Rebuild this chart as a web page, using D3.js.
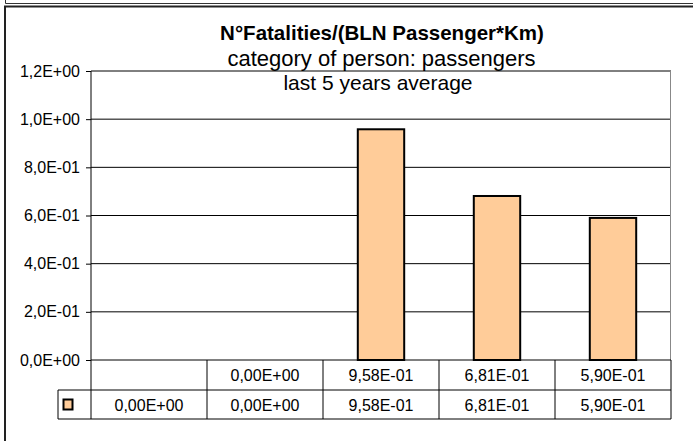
<!DOCTYPE html>
<html><head><meta charset="utf-8">
<script src="https://cdn.jsdelivr.net/npm/d3@7"></script>
<style>html,body{margin:0;padding:0;background:#fff;}svg{display:block;font-family:"Liberation Sans",Arial,sans-serif;}</style>
</head><body>
<svg id="c" width="693" height="441"></svg>
<script>
const categories = ["", "0,00E+00", "9,58E-01", "6,81E-01", "5,90E-01"];
const values = [0, 0, 0.958, 0.681, 0.590];
const yTicks = [0, 0.2, 0.4, 0.6, 0.8, 1.0, 1.2];
const yTickLabels = ["0,0E+00","2,0E-01","4,0E-01","6,0E-01","8,0E-01","1,0E+00","1,2E+00"];
const titleLines = ["N°Fatalities/(BLN Passenger*Km)", "category of person: passengers", "last 5 years average"];

function sci2(v){
  if (v === 0) return "0,00E+00";
  let e = Math.floor(Math.log10(Math.abs(v)));
  let m = v / Math.pow(10, e);
  let ms = m.toFixed(2).replace(".", ",");
  let es = (e < 0 ? "-" : "+") + String(Math.abs(e)).padStart(2, "0");
  return ms + "E" + es;
}

const svg = d3.select("#c");
// outer frames
svg.append("line").attr("x1",5.5).attr("x2",693).attr("y1",3.5).attr("y2",3.5).attr("stroke","#333").attr("stroke-width",1);
svg.append("line").attr("x1",5.5).attr("x2",5.5).attr("y1",0).attr("y2",3.5).attr("stroke","#333").attr("stroke-width",1);
svg.append("path").attr("d","M5,441V6.5H693").attr("fill","none").attr("stroke","#222").attr("stroke-width",2);

const pL = 91, pR = 671, pT = 71, pB = 360;
const x = d3.scaleBand().domain(d3.range(categories.length)).range([pL, pR]).padding(0);
const y = d3.scaleLinear().domain([0, 1.2]).range([pB, pT]);

// gridlines
svg.append("g").selectAll("line").data(yTicks.slice(1)).join("line")
  .attr("x1", pL).attr("x2", pR).attr("y1", d=>y(d)).attr("y2", d=>y(d))
  .attr("stroke", "#000").attr("stroke-width", 1);
// right border of plot
svg.append("line").attr("x1",pR-0.5).attr("x2",pR-0.5).attr("y1",pT).attr("y2",pB).attr("stroke","#888");

// bars
const bw = x.bandwidth()*0.4;
svg.append("g").selectAll("rect").data(values).join("rect")
  .attr("x", (d,i)=> x(i) + x.bandwidth()/2 - bw/2)
  .attr("y", d=> y(d)).attr("width", bw).attr("height", d=> pB - y(d))
  .attr("fill", "#FFCC99").attr("stroke", "#000").attr("stroke-width", 2)
  .style("display", d=> d>0 ? null : "none");

// y axis
const yAxis = d3.axisLeft(y).tickValues(yTicks).tickFormat((d,i)=>yTickLabels[i]).tickSize(5).tickPadding(6);
const ga = svg.append("g").attr("transform", `translate(${pL},0)`).call(yAxis);
ga.select(".domain").remove();
ga.selectAll("line").attr("stroke","#000");
ga.selectAll("text").attr("font-size", 16).attr("font-family","'Liberation Sans',Arial,sans-serif").attr("fill","#000");
svg.append("line").attr("x1",pL).attr("x2",pL).attr("y1",pT).attr("y2",419).attr("stroke","#000");

// data table
const r1 = pB, r2 = 390, r3 = 419;
const tbl = svg.append("g");
tbl.append("line").attr("x1",pL).attr("x2",pR).attr("y1",r1).attr("y2",r1).attr("stroke","#000");
tbl.append("line").attr("x1",58).attr("x2",pR).attr("y1",r2).attr("y2",r2).attr("stroke","#000");
tbl.append("line").attr("x1",58).attr("x2",pR).attr("y1",r3).attr("y2",r3).attr("stroke","#000");
tbl.append("line").attr("x1",58).attr("x2",58).attr("y1",r2).attr("y2",r3).attr("stroke","#000");
tbl.selectAll(".vl").data(d3.range(1, categories.length+1)).join("line")
  .attr("x1", i=> i<categories.length ? x(i) : pR).attr("x2", i=> i<categories.length ? x(i) : pR)
  .attr("y1", r1).attr("y2", r3).attr("stroke","#000");
tbl.selectAll(".cat").data(categories).join("text")
  .attr("x", (d,i)=> x(i)+x.bandwidth()/2).attr("y", (r1+r2)/2+6)
  .attr("text-anchor","middle").attr("font-size",16).text(d=>d);
tbl.selectAll(".val").data(values).join("text")
  .attr("x", (d,i)=> x(i)+x.bandwidth()/2).attr("y", (r2+r3)/2+6)
  .attr("text-anchor","middle").attr("font-size",16).text(d=>sci2(d));
tbl.append("rect").attr("x",63.5).attr("y",399.5).attr("width",9).attr("height",10)
  .attr("fill","#FFCC99").attr("stroke","#000").attr("stroke-width",2);

// titles
svg.append("text").attr("x",382).attr("y",40).attr("text-anchor","middle").attr("font-weight","bold").attr("font-size",20.5).text(titleLines[0]);
svg.append("text").attr("x",381.5).attr("y",66).attr("text-anchor","middle").attr("font-size",22).text(titleLines[1]);
svg.append("text").attr("x",378).attr("y",90).attr("text-anchor","middle").attr("font-size",21).text(titleLines[2]);
</script>
</body></html>
